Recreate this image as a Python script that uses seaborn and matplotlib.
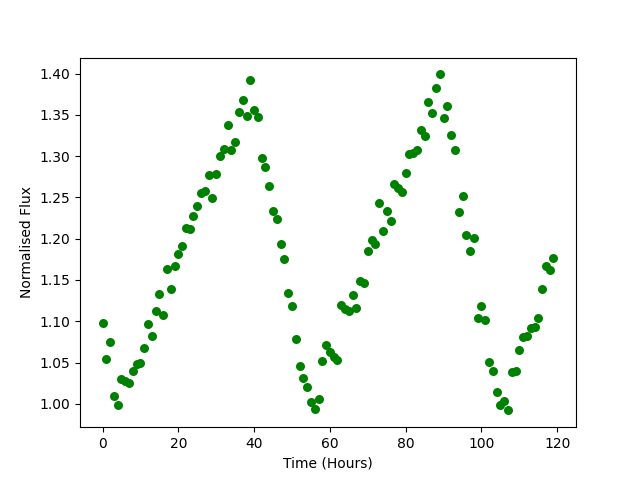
import matplotlib
matplotlib.use("Agg")
import matplotlib.pyplot as plt
import seaborn as sns
import pandas as pd

hours = list(range(120))
flux = [
    1.098, 1.054, 1.075, 1.010, 0.998, 1.030, 1.028, 1.025, 1.040, 1.048,
    1.049, 1.067, 1.097, 1.082, 1.112, 1.133, 1.108, 1.163, 1.139, 1.167,
    1.182, 1.191, 1.213, 1.212, 1.227, 1.240, 1.255, 1.258, 1.277, 1.249,
    1.278, 1.300, 1.309, 1.338, 1.308, 1.317, 1.353, 1.368, 1.349, 1.392,
    1.356, 1.347, 1.298, 1.287, 1.264, 1.233, 1.224, 1.193, 1.175, 1.134,
    1.119, 1.079, 1.046, 1.031, 1.020, 1.002, 0.994, 1.006, 1.052, 1.071,
    1.063, 1.057, 1.053, 1.120, 1.115, 1.113, 1.132, 1.116, 1.149, 1.146,
    1.185, 1.199, 1.194, 1.243, 1.209, 1.234, 1.222, 1.266, 1.261, 1.257,
    1.280, 1.303, 1.304, 1.308, 1.332, 1.324, 1.366, 1.352, 1.383, 1.399,
    1.346, 1.361, 1.325, 1.307, 1.232, 1.252, 1.204, 1.185, 1.201, 1.104,
    1.118, 1.102, 1.051, 1.040, 1.014, 0.998, 1.003, 0.992, 1.038, 1.040,
    1.065, 1.081, 1.082, 1.092, 1.093, 1.104, 1.139, 1.167, 1.162, 1.177,
]

df = pd.DataFrame({"Time (Hours)": hours, "Normalised Flux": flux})

fig, ax = plt.subplots(figsize=(6.4, 4.8), dpi=100)
sns.scatterplot(data=df, x="Time (Hours)", y="Normalised Flux", color="green",
                s=42, linewidth=0, ax=ax)
ax.set_xlabel("Time (Hours)")
ax.set_ylabel("Normalised Flux")
fig.savefig("out.png", dpi=100)
